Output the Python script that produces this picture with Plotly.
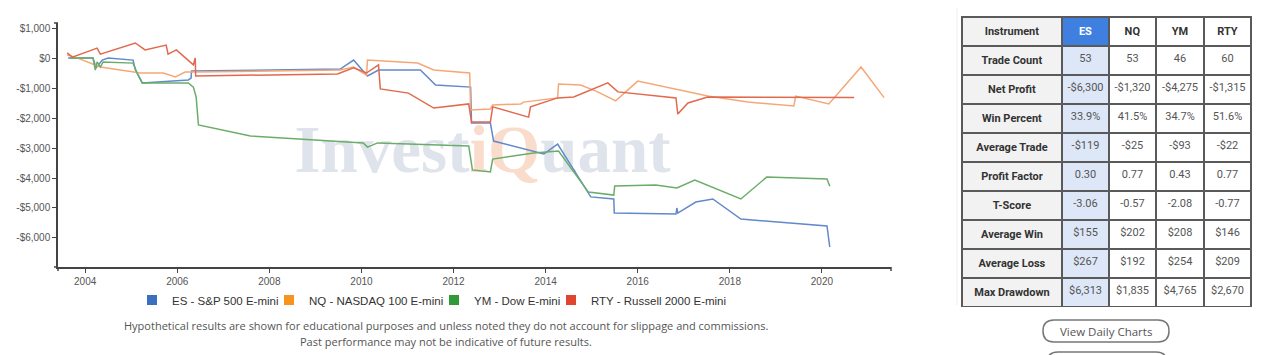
import plotly.graph_objects as go

# ---------------- data ----------------
es_x = [2003.63, 2004.17, 2004.24, 2004.37, 2004.50, 2005.04, 2005.09, 2005.24, 2006.24, 2006.30, 2006.31,
        2009.54, 2009.83, 2010.13, 2010.37, 2011.28, 2011.61, 2012.37, 2012.39, 2012.80, 2012.87, 2013.76,
        2013.96, 2014.26, 2014.93, 2014.98, 2015.48, 2015.49, 2016.83, 2016.85, 2016.87, 2017.26, 2017.63,
        2018.24, 2020.11, 2020.17]
es_y = [0, 0, -330, -70, 0, -70, -400, -830, -730, -670, -430,
        -370, -70, -600, -400, -400, -900, -970, -2170, -2170, -2770, -3130,
        -3200, -2870, -4470, -4630, -4700, -5170, -5200, -5000, -5170, -4800, -4700,
        -5370, -5600, -6300]

nq_x = [2003.61, 2003.78, 2004.33, 2005.20, 2005.70, 2005.96, 2006.17, 2006.43, 2009.54, 2009.83, 2010.11,
        2010.13, 2010.48, 2011.22, 2011.57, 2012.35, 2012.37, 2012.80, 2012.85, 2013.46, 2013.52, 2014.26,
        2014.28, 2014.76, 2015.13, 2015.52, 2016.00, 2017.52, 2018.39, 2019.39, 2019.43, 2020.15, 2020.85,
        2021.35]
nq_y = [100, 30, -300, -500, -500, -630, -470, -470, -400, -300, -570,
        -70, -100, -170, -400, -500, -1730, -1700, -1570, -1530, -1470, -1330,
        -870, -900, -1130, -1430, -770, -1270, -1470, -1600, -1270, -1530, -300,
        -1320]

ym_x = [2003.67, 2004.17, 2004.22, 2004.26, 2004.33, 2004.39, 2005.04, 2005.13, 2005.24, 2006.24, 2006.35,
        2006.41, 2006.46, 2007.59, 2010.04, 2010.13, 2010.35, 2012.33, 2012.41, 2012.80, 2012.85, 2013.74,
        2014.28, 2014.93, 2015.48, 2015.50, 2016.39, 2016.85, 2017.24, 2018.24, 2018.80, 2020.11, 2020.17]
ym_y = [0, 0, -400, -130, -300, -130, -170, -500, -830, -830, -970,
        -1300, -2230, -2600, -2830, -2970, -2830, -2930, -3730, -3800, -3370, -3170,
        -3100, -4470, -4570, -4270, -4230, -4330, -4070, -4700, -3970, -4030, -4275]

rty_x = [2003.61, 2003.72, 2004.26, 2004.33, 2005.09, 2005.30, 2005.76, 2005.80, 2005.98, 2006.35, 2006.39,
         2006.40, 2009.48, 2009.83, 2010.11, 2010.37, 2010.41, 2011.02, 2011.57, 2012.33, 2012.39, 2012.80,
         2012.85, 2013.63, 2013.67, 2014.26, 2014.61, 2015.35, 2015.57, 2016.83, 2016.87, 2017.09, 2017.52,
         2020.70]
rty_y = [170, 30, 330, 130, 500, 270, 430, 130, 270, -230, 0,
         -600, -530, -330, -500, -230, -1030, -1170, -1670, -1530, -2130, -2130,
         -1630, -1970, -1630, -1330, -1300, -830, -1130, -1330, -1870, -1500, -1300,
         -1315]

series_names = ["ES - S&P 500 E-mini", "NQ - NASDAQ 100 E-mini", "YM - Dow E-mini", "RTY - Russell 2000 E-mini"]

x_tickvals = [2004, 2006, 2008, 2010, 2012, 2014, 2016, 2018, 2020]
x_ticktext = ["2004", "2006", "2008", "2010", "2012", "2014", "2016", "2018", "2020"]
y_tickvals = [1000, 0, -1000, -2000, -3000, -4000, -5000, -6000]
y_ticktext = ["$1,000", "$0", "-$1,000", "-$2,000", "-$3,000", "-$4,000", "-$5,000", "-$6,000"]

table_header = ["Instrument", "ES", "NQ", "YM", "RTY"]
row_labels = ["Trade Count", "Net Profit", "Win Percent", "Average Trade", "Profit Factor",
              "T-Score", "Average Win", "Average Loss", "Max Drawdown"]
col_es = ["53", "-$6,300", "33.9%", "-$119", "0.30", "-3.06", "$155", "$267", "$6,313"]
col_nq = ["53", "-$1,320", "41.5%", "-$25", "0.77", "-0.57", "$202", "$192", "$1,835"]
col_ym = ["46", "-$4,275", "34.7%", "-$93", "0.43", "-2.08", "$208", "$254", "$4,765"]
col_rty = ["60", "-$1,315", "51.6%", "-$22", "0.77", "-0.77", "$146", "$209", "$2,670"]

# ---------------- styling ----------------
OFF = 8                      # page body margin offset of the plot div
W, H = 1278 - OFF, 355 - OFF
line_colors = ["#6189cc", "#f5a877", "#6aad6a", "#e2694d"]
legend_colors = ["#3d6fc0", "#f7941e", "#2f9a37", "#e0452f"]
legend_text_x = [172, 309, 474, 591]   # page-pixel start of each legend label


def px_x(p):
    return (p - OFF) / W


def px_y(p):
    return 1 - (p - OFF) / H


fig = go.Figure()

# watermark (beneath the lines)
fig.add_trace(go.Scatter(
    x=[2012.63], y=[-3250], mode="text",
    text=["<b>Invest<span style='color:#f9dccb'>iQ</span>uant</b>"],
    textfont=dict(family="Liberation Serif", size=67, color="#dfe3eb"),
    textposition="middle center", hoverinfo="skip", showlegend=False, cliponaxis=False,
))

for xs, ys, c in [(es_x, es_y, line_colors[0]), (nq_x, nq_y, line_colors[1]),
                  (ym_x, ym_y, line_colors[2]), (rty_x, rty_y, line_colors[3])]:
    fig.add_trace(go.Scatter(x=xs, y=ys, mode="lines", line=dict(color=c, width=1.5),
                             showlegend=False, hoverinfo="skip"))

legend_ids = ["legend", "legend2", "legend3", "legend4"]
for name, c, lid in zip(series_names, legend_colors, legend_ids):
    fig.add_trace(go.Scatter(x=[None], y=[None], mode="markers", name=name, legend=lid,
                             marker=dict(symbol="square", size=10, color=c)))

# table
label_cells = ["<b>%s</b>" % r for r in row_labels]
fig.add_trace(go.Table(
    domain=dict(x=[px_x(962), px_x(1251)], y=[px_y(307), px_y(17)]),
    columnwidth=[100, 47, 47, 48, 47],
    header=dict(
        values=["<b>%s</b>" % h for h in table_header],
        fill=dict(color=["#f2f2f2", "#3f7fdf", "#ffffff", "#ffffff", "#ffffff"]),
        font=dict(family="Roboto", size=11, color=["#333333", "#ffffff", "#333333", "#333333", "#333333"]),
        line=dict(color="#5a5a5a", width=2),
        align="center", height=29,
    ),
    cells=dict(
        values=[label_cells, col_es, col_nq, col_ym, col_rty],
        fill=dict(color=[["#f2f2f2"] * 9, ["#dde7f7"] * 9, ["#ffffff"] * 9, ["#ffffff"] * 9, ["#ffffff"] * 9]),
        font=dict(family="Roboto", size=11, color=["#333333", "#555555", "#555555", "#555555", "#555555"]),
        line=dict(color="#5a5a5a", width=2),
        align="center", height=29,
    ),
))


def rounded(x0, y0, x1, y1, r):
    X0, X1 = px_x(x0), px_x(x1)
    Y0, Y1 = px_y(y1), px_y(y0)
    rx, ry = r / W, r / H
    return (f"M {X0+rx},{Y0} L {X1-rx},{Y0} Q {X1},{Y0} {X1},{Y0+ry} L {X1},{Y1-ry} "
            f"Q {X1},{Y1} {X1-rx},{Y1} L {X0+rx},{Y1} Q {X0},{Y1} {X0},{Y1-ry} "
            f"L {X0},{Y0+ry} Q {X0},{Y0} {X0+rx},{Y0} Z")


shapes = [
    dict(type="path", xref="paper", yref="paper", path=rounded(1043, 320, 1169, 342, 11),
         line=dict(color="#777777", width=1.5), fillcolor="rgba(0,0,0,0)"),
    dict(type="path", xref="paper", yref="paper", path=rounded(1047, 352, 1167, 376, 11),
         line=dict(color="#777777", width=1.5), fillcolor="rgba(0,0,0,0)"),
    # axis end ticks
    dict(type="line", xref="paper", yref="paper", x0=px_x(54), x1=px_x(58), y0=px_y(23), y1=px_y(23),
         line=dict(color="#444444", width=1.5)),
    dict(type="line", xref="paper", yref="paper", x0=px_x(54), x1=px_x(58), y0=px_y(267), y1=px_y(267),
         line=dict(color="#444444", width=1.5)),
    dict(type="line", xref="paper", yref="paper", x0=px_x(58), x1=px_x(58), y0=px_y(267), y1=px_y(271),
         line=dict(color="#444444", width=1.5)),
    dict(type="line", xref="paper", yref="paper", x0=px_x(891), x1=px_x(891), y0=px_y(267), y1=px_y(271),
         line=dict(color="#444444", width=1.5)),
    dict(type="line", xref="paper", yref="paper", x0=px_x(957), x1=px_x(957), y0=px_y(8), y1=px_y(305),
         line=dict(color="#eeeeee", width=1)),
]

annotations = [
    dict(text="View Daily Charts", x=px_x(1106), y=px_y(331), xref="paper", yref="paper",
         showarrow=False, font=dict(family="Open Sans", size=11.5, color="#555555"),
         xanchor="center", yanchor="middle"),
    dict(text="Hypothetical results are shown for educational purposes and unless noted they do not account for slippage and commissions.",
         x=px_x(446), y=px_y(325), xref="paper", yref="paper", showarrow=False,
         font=dict(family="Open Sans", size=11, color="#555555"), xanchor="center", yanchor="middle"),
    dict(text="Past performance may not be indicative of future results.",
         x=px_x(446), y=px_y(341), xref="paper", yref="paper", showarrow=False,
         font=dict(family="Open Sans", size=11, color="#555555"), xanchor="center", yanchor="middle"),
]

legend_common = dict(orientation="h", yanchor="middle", xanchor="left", y=px_y(300),
                     font=dict(family="Liberation Sans", size=11.5, color="#333333"),
                     itemwidth=30, bgcolor="rgba(0,0,0,0)", borderwidth=0)
legends = {}
for lid, tx in zip(legend_ids, legend_text_x):
    legends[lid] = dict(legend_common, x=px_x(tx - 40))

fig.update_layout(
    width=W, height=H,
    margin=dict(l=0, r=0, t=0, b=0),
    paper_bgcolor="white", plot_bgcolor="white",
    font=dict(family="Liberation Sans", color="#555555"),
    xaxis=dict(domain=[px_x(58), px_x(891)], range=[2003.41, 2021.50], tickvals=x_tickvals,
               ticktext=x_ticktext, showgrid=False, zeroline=False, showline=True,
               linecolor="#444444", linewidth=1.5, ticks="outside", ticklen=4, tickcolor="#444444",
               tickfont=dict(size=10, color="#555555"), anchor="y", fixedrange=True),
    yaxis=dict(domain=[px_y(267), px_y(23)], range=[-6967, 1167], tickvals=y_tickvals,
               ticktext=y_ticktext, showgrid=False, zeroline=False, showline=True,
               linecolor="#444444", linewidth=1.5, ticks="outside", ticklen=4, tickcolor="#444444",
               tickfont=dict(size=10, color="#555555"), anchor="x", fixedrange=True),
    shapes=shapes,
    annotations=annotations,
    **legends,
)

fig.write_html("out.html")
